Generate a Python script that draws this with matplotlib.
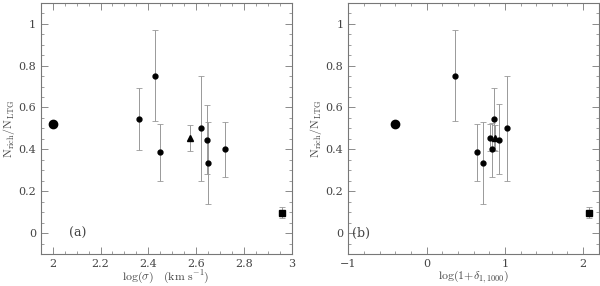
import matplotlib.pyplot as plt
from matplotlib.ticker import MultipleLocator

# panel (a): log(sigma)
sig_x = [2.36, 2.43, 2.45, 2.62, 2.645, 2.652, 2.72]
sig_y = [0.545, 0.75, 0.385, 0.50, 0.445, 0.335, 0.40]
sig_lo = [0.395, 0.535, 0.25, 0.25, 0.28, 0.14, 0.27]
sig_hi = [0.695, 0.97, 0.52, 0.75, 0.61, 0.53, 0.53]
sig_tri = (2.575, 0.455, 0.39, 0.515)
sig_big = (2.0, 0.52, 0.505, 0.535)
sig_sq = (2.96, 0.095, 0.07, 0.125)

# panel (b): log(1+delta)
del_x = [0.365, 0.65, 0.72, 0.805, 0.83, 0.857, 0.93, 1.03]
del_y = [0.75, 0.385, 0.335, 0.455, 0.40, 0.545, 0.445, 0.50]
del_lo = [0.535, 0.25, 0.14, 0.39, 0.27, 0.395, 0.28, 0.25]
del_hi = [0.97, 0.52, 0.53, 0.52, 0.525, 0.695, 0.615, 0.75]
del_tri = (0.875, 0.455, 0.39, 0.515)
del_big = (-0.40, 0.52, 0.505, 0.535)
del_sq = (2.075, 0.095, 0.07, 0.125)

plt.rcParams['font.family'] = 'DejaVu Serif'
plt.rcParams['mathtext.fontset'] = 'cm'
txt = '#444444'
ecol = '#999999'

fig = plt.figure(figsize=(6, 2.86), dpi=100)
axa = fig.add_axes([0.068, 0.112, 0.418, 0.878])
axb = fig.add_axes([0.5805, 0.112, 0.4175, 0.878])


def draw(ax, xs, ys, lo, hi, tri, big, sq):
    yerr = [[y - l for y, l in zip(ys, lo)], [h - y for y, h in zip(ys, hi)]]
    ax.errorbar(xs, ys, yerr=yerr, fmt='o', color='black', ms=3.5,
                ecolor=ecol, elinewidth=0.7, capsize=2, capthick=0.6)
    for (x, y, l, h), m, s in [(tri, '^', 5), (big, 'o', 6), (sq, 's', 5)]:
        ax.errorbar([x], [y], yerr=[[y - l], [h - y]], fmt=m, color='black',
                    ms=s, ecolor=ecol, elinewidth=0.7, capsize=2, capthick=0.6)
    ax.set_ylim(-0.1, 1.1)
    ax.yaxis.set_major_locator(MultipleLocator(0.2))
    ax.yaxis.set_minor_locator(MultipleLocator(0.05))
    ax.tick_params(which='both', direction='in', top=True, right=True,
                   colors='#777777', labelcolor=txt, labelsize=8)
    ax.tick_params(which='major', length=5, width=0.6)
    ax.tick_params(which='minor', length=2.5, width=0.5)
    for sp in ax.spines.values():
        sp.set_color('#777777')
        sp.set_linewidth(0.8)
    ax.set_yticks([0, 0.2, 0.4, 0.6, 0.8, 1.0])
    ax.set_yticklabels(['0', '0.2', '0.4', '0.6', '0.8', '1'])
    ax.set_ylabel(r'$\mathrm{N_{rich}/N_{LTG}}$', color=txt, fontsize=8.5, labelpad=1)


draw(axa, sig_x, sig_y, sig_lo, sig_hi, sig_tri, sig_big, sig_sq)
axa.set_xlim(1.95, 3.0)
axa.xaxis.set_major_locator(MultipleLocator(0.2))
axa.xaxis.set_minor_locator(MultipleLocator(0.05))
axa.set_xticks([2, 2.2, 2.4, 2.6, 2.8, 3])
axa.set_xticklabels(['2', '2.2', '2.4', '2.6', '2.8', '3'])
axa.set_xlabel(r'$\mathrm{log(}\sigma\mathrm{)\ \ \ (km\ s^{-1})}$', color=txt, fontsize=8.5, labelpad=0)
axa.text(2.07, 0.0, '(a)', color=txt, fontsize=9, va='center')

draw(axb, del_x, del_y, del_lo, del_hi, del_tri, del_big, del_sq)
axb.set_xlim(-1.0, 2.2)
axb.xaxis.set_major_locator(MultipleLocator(1))
axb.xaxis.set_minor_locator(MultipleLocator(0.2))
axb.set_xticks([-1, 0, 1, 2])
axb.set_xticklabels(['\u22121', '0', '1', '2'])
axb.set_xlabel(r'$\mathrm{log(1\!+\!}\delta_{1,1000}\mathrm{)}$', color=txt, fontsize=8.5, labelpad=0)
axb.text(-0.95, 0.0, '(b)', color=txt, fontsize=9, va='center')

fig.savefig('out.png', dpi=100)
